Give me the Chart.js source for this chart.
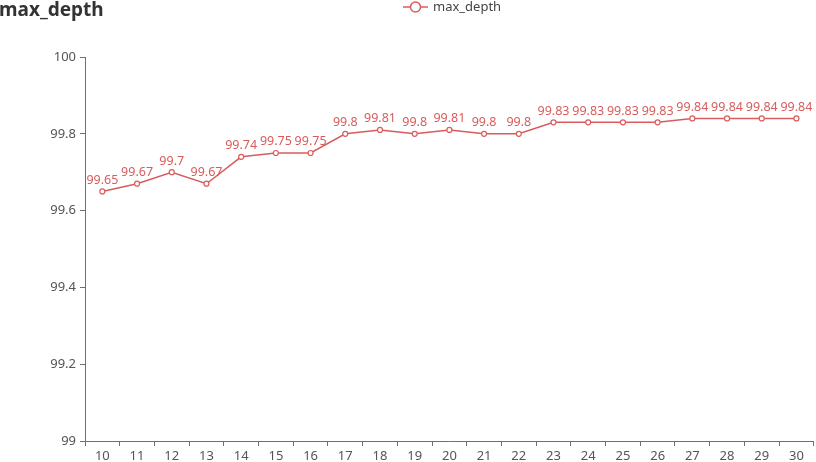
<!DOCTYPE html>
<html>
<head>
<meta charset="utf-8">
<script src="https://cdn.jsdelivr.net/npm/chart.js@4/dist/chart.umd.min.js"></script>
<style>
  html, body { margin: 0; padding: 0; background: #fff; overflow: hidden; }
  #wrap { width: 819px; height: 462px; }
</style>
</head>
<body>
<div id="wrap"><canvas id="chart"></canvas></div>
<script>
// Data
const categories = ['10','11','12','13','14','15','16','17','18','19','20','21','22','23','24','25','26','27','28','29','30'];
const maxDepth = [99.65, 99.67, 99.7, 99.67, 99.74, 99.75, 99.75, 99.8, 99.81, 99.8, 99.81, 99.8, 99.8, 99.83, 99.83, 99.83, 99.83, 99.84, 99.84, 99.84, 99.84];
const yTicks = [99, 99.2, 99.4, 99.6, 99.8, 100];

const lineColor = '#d95c5c';
const axisColor = '#6e7079';
const fontFamily = "'Noto Sans', 'Open Sans', sans-serif";

// Title, legend and value labels, drawn in echarts style
const decorations = {
    id: 'decorations',
    afterDatasetsDraw(chart) {
        const ctx = chart.ctx;
        ctx.save();

        // value labels above each point
        const meta = chart.getDatasetMeta(0);
        ctx.fillStyle = lineColor;
        ctx.font = '12.5px ' + fontFamily;
        ctx.textAlign = 'center';
        ctx.textBaseline = 'bottom';
        meta.data.forEach((pt, i) => {
            ctx.fillText(String(maxDepth[i]), pt.x, pt.y - 5);
        });

        // title
        ctx.fillStyle = '#333';
        ctx.font = 'bold 19px ' + fontFamily;
        ctx.textAlign = 'left';
        ctx.textBaseline = 'middle';
        ctx.fillText('max_depth', -1, 11);

        // legend
        const lx = 403, ly = 7;
        ctx.strokeStyle = lineColor;
        ctx.lineWidth = 1.5;
        ctx.beginPath();
        ctx.moveTo(lx, ly);
        ctx.lineTo(lx + 25, ly);
        ctx.stroke();
        ctx.beginPath();
        ctx.arc(lx + 12.5, ly, 5, 0, Math.PI * 2);
        ctx.fillStyle = '#fff';
        ctx.fill();
        ctx.stroke();
        ctx.fillStyle = '#444';
        ctx.font = '13px ' + fontFamily;
        ctx.textBaseline = 'middle';
        ctx.fillText('max_depth', lx + 30, ly);

        ctx.restore();
    }
};

new Chart(document.getElementById('chart'), {
    type: 'line',
    data: {
        labels: categories,
        datasets: [{
            label: 'max_depth',
            data: maxDepth,
            borderColor: lineColor,
            backgroundColor: '#fff',
            borderWidth: 1.5,
            pointRadius: 2.5,
            pointBorderWidth: 1.2,
            pointBackgroundColor: '#fff',
            pointBorderColor: lineColor,
            tension: 0
        }]
    },
    options: {
        responsive: true,
        maintainAspectRatio: false,
        animation: false,
        layout: { padding: { top: 57, right: 2, bottom: 0, left: 0 } },
        plugins: {
            legend: { display: false },
            title: { display: false },
            tooltip: { enabled: false }
        },
        scales: {
            x: {
                type: 'category',
                offset: true,
                grid: { display: true, drawOnChartArea: false, drawTicks: true, tickLength: 5, offset: true, color: axisColor },
                border: { display: true, color: axisColor },
                ticks: { color: '#555', font: { size: 13, family: fontFamily }, padding: 2, maxRotation: 0, autoSkip: false },
                afterFit(s) {
                    s.height = 21;
                    s.paddingLeft = 0;
                    s.paddingRight = 0;
                }
            },
            y: {
                min: 99,
                max: 100,
                afterBuildTicks(s) { s.ticks = yTicks.map(v => ({ value: v })); },
                grid: { display: true, drawOnChartArea: false, drawTicks: true, tickLength: 5, color: axisColor },
                border: { display: true, color: axisColor },
                ticks: {
                    color: '#555',
                    font: { size: 13, family: fontFamily },
                    padding: 4,
                    callback: v => String(Math.round(v * 10) / 10)
                },
                afterFit(s) { s.width = 85; }
            }
        }
    },
    plugins: [decorations]
});
</script>
</body>
</html>
